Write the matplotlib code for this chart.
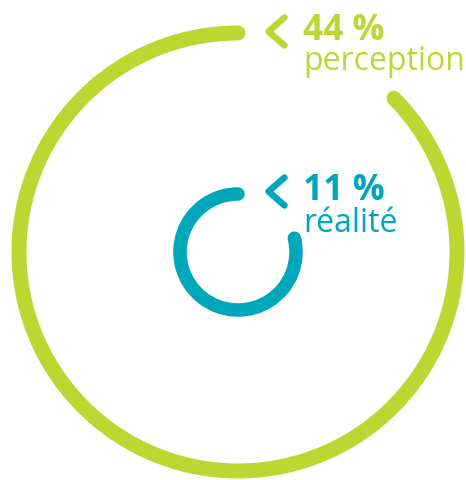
import matplotlib
matplotlib.use("Agg")
import matplotlib.pyplot as plt
from matplotlib.patches import Arc

# data
labels = ["perception", "réalité"]
percents = ["44 %", "11 %"]
arc_start_deg = [90, 90]          # arc start (top)
arc_end_deg = [404.6, 373.8]      # arc end, counter-clockwise
colors = ["#bdd631", "#00a6ba"]

W, H = 466, 481
fig = plt.figure(figsize=(W / 100, H / 100), dpi=100)
ax = fig.add_axes([0, 0, 1, 1])
ax.set_xlim(0, W)
ax.set_ylim(0, H)
ax.axis("off")

cx, cy = 238, H - 253
radii = [219, 58]
widths = [15, 13.5]
chevron_y = [H - 32.5, H - 192.5]
pct_base = [H - 40, H - 200]
lab_base = [H - 70, H - 232]

for i in range(2):
    arc = Arc((cx, cy), 2 * radii[i], 2 * radii[i], theta1=arc_start_deg[i], theta2=arc_end_deg[i],
              color=colors[i], lw=widths[i] * 72 / 100, capstyle="round")
    ax.add_patch(arc)
    yc = chevron_y[i]
    ax.plot([284.5, 268.5, 284.5], [yc + 14, yc, yc - 14], color=colors[i], lw=6.5 * 72 / 100,
            solid_capstyle="round", solid_joinstyle="round")
    ax.text(303, pct_base[i], percents[i], color=colors[i], fontsize=25.5, fontweight="bold",
            family="Open Sans", ha="left", va="baseline")
    ax.text(303, lab_base[i], labels[i], color=colors[i], fontsize=23,
            family="Open Sans", ha="left", va="baseline")

fig.savefig("out.png", dpi=100)
